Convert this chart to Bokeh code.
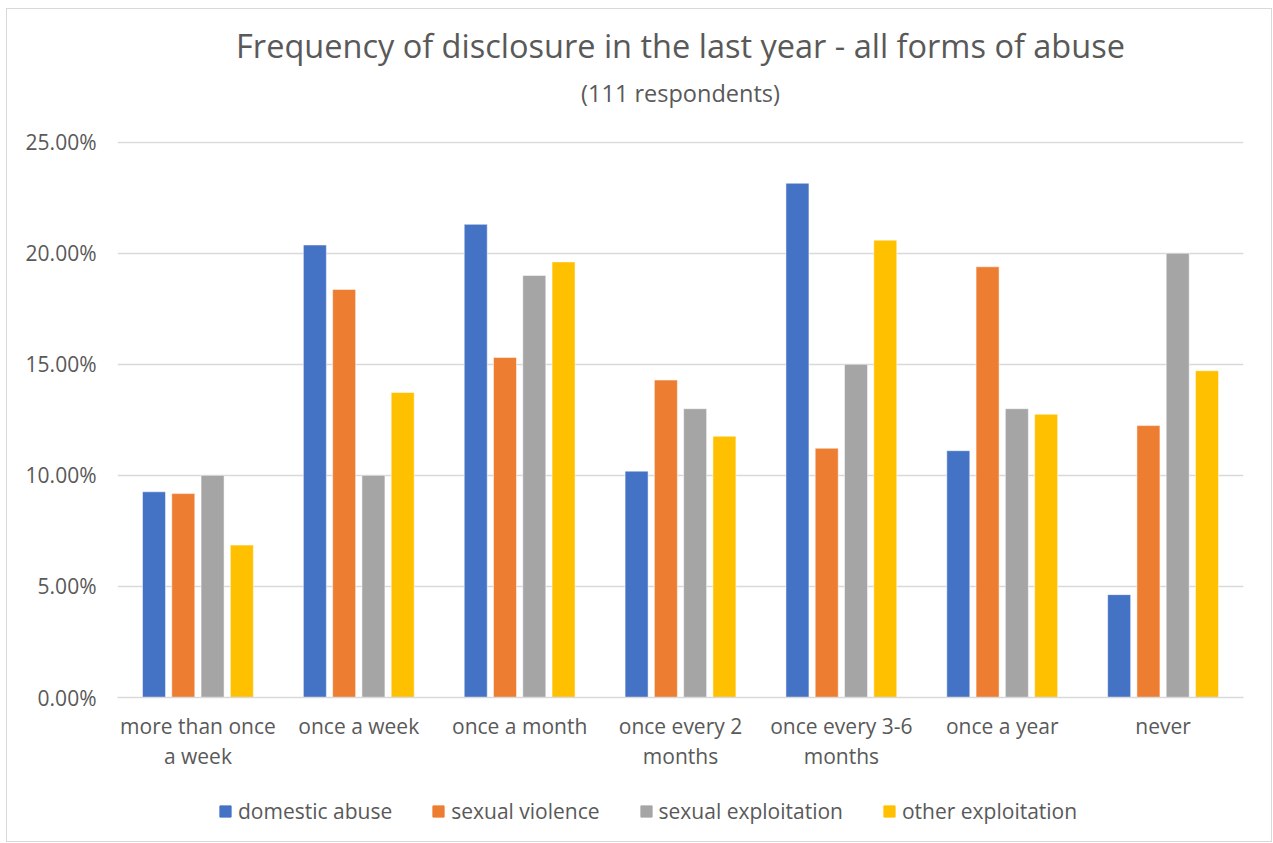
from bokeh.plotting import figure
from bokeh.layouts import column
from bokeh.models import ColumnDataSource, FactorRange, Range1d, Legend, LegendItem, Title, PrintfTickFormatter, FixedTicker
from bokeh.transform import dodge
from bokeh.embed import file_html
from bokeh.resources import INLINE

categories = ["more than once\na week", "once a week", "once a month", "once every 2\nmonths",
              "once every 3-6\nmonths", "once a year", "never"]
domestic_abuse = [9.26, 20.37, 21.30, 10.19, 23.15, 11.11, 4.63]
sexual_violence = [9.18, 18.37, 15.31, 14.29, 11.22, 19.39, 12.24]
sexual_exploitation = [10.00, 10.00, 19.00, 13.00, 15.00, 13.00, 20.00]
other_exploitation = [6.86, 13.73, 19.61, 11.76, 20.59, 12.75, 14.71]
series_names = ["domestic abuse", "sexual violence", "sexual exploitation", "other exploitation"]
colors = ["#4472C4", "#ED7D31", "#A5A5A5", "#FFC000"]
y_ticks = [0, 5, 10, 15, 20, 25]

FONT = "Open Sans"
TXT = "#595959"

source = ColumnDataSource(dict(cat=categories, da=domestic_abuse, sv=sexual_violence,
                               se=sexual_exploitation, oe=other_exploitation))

p = figure(x_range=FactorRange(*categories, range_padding=0), y_range=Range1d(0, 25.03),
           width=1264, height=772, output_backend="svg", toolbar_location=None, title=None,
           min_border_left=110, min_border_right=28, min_border_top=132, min_border_bottom=84)
p.outline_line_color = None
p.background_fill_color = "white"

step = 0.182
width = 0.143
fields = ["da", "sv", "se", "oe"]
renderers = []
for i, f in enumerate(fields):
    r = p.vbar(x=dodge("cat", (i - 1.5) * step, range=p.x_range), top=f, width=width,
               source=source, color=colors[i], line_color="white", line_width=0.5)
    renderers.append(r)

p.yaxis.ticker = FixedTicker(ticks=y_ticks)
p.yaxis.formatter = PrintfTickFormatter(format="%.2f%%")
p.yaxis.axis_line_color = None
p.yaxis.major_tick_line_color = None
p.yaxis.minor_tick_line_color = None
p.yaxis.major_label_text_font = FONT
p.yaxis.major_label_text_font_size = "21px"
p.yaxis.major_label_text_color = TXT
p.yaxis.major_label_standoff = 15

p.xaxis.axis_line_color = "#D9D9D9"
p.xaxis.axis_line_width = 1.5
p.xaxis.major_tick_line_color = None
p.xaxis.minor_tick_line_color = None
p.xaxis.major_label_text_font = FONT
p.xaxis.major_label_text_font_size = "21px"
p.xaxis.major_label_text_color = TXT
p.xaxis.major_label_standoff = 8
p.xaxis.major_label_text_line_height = 1.1

p.xgrid.grid_line_color = None
p.ygrid.grid_line_color = "#D9D9D9"
p.ygrid.grid_line_width = 1.5

sub = Title(text="(111 respondents)", align="center", text_font=FONT, text_font_size="23.5px",
            text_color=TXT, text_font_style="normal", standoff=66)
p.add_layout(sub, "above")
main = Title(text="Frequency of disclosure in the last year - all forms of abuse", align="center",
             text_font=FONT, text_font_size="32.5px", text_color=TXT, text_font_style="normal",
             standoff=-53)
p.add_layout(main, "above")

# legend strip below the chart: same series, kept out of its view
lg = figure(width=1264, height=60, x_range=FactorRange(*categories, range_padding=0),
            y_range=Range1d(100, 101), output_backend="svg", toolbar_location=None,
            min_border_left=0, min_border_right=0, min_border_top=0, min_border_bottom=0)
lg.axis.visible = False
lg.grid.visible = False
lg.outline_line_color = None
lg.background_fill_color = "white"
lg_renderers = []
for i, f in enumerate(fields):
    r = lg.vbar(x=dodge("cat", (i - 1.5) * step, range=lg.x_range), top=f, width=width,
                source=source, color=colors[i], line_color=colors[i])
    lg_renderers.append(r)
legend = Legend(items=[LegendItem(label=n, renderers=[r]) for n, r in zip(series_names, lg_renderers)],
                orientation="horizontal", location="left", border_line_color=None,
                background_fill_alpha=0, label_text_font=FONT, label_text_font_size="21px",
                label_text_color=TXT, glyph_width=14, glyph_height=14, label_standoff=6,
                spacing=39, padding=0, margin=101)
lg.add_layout(legend)

layout = column(p, lg, spacing=0)
layout.styles = {"border": "1px solid #D9D9D9", "margin-left": "6px", "margin-top": "8px"}

open("out.html", "w").write(file_html(layout, INLINE))
